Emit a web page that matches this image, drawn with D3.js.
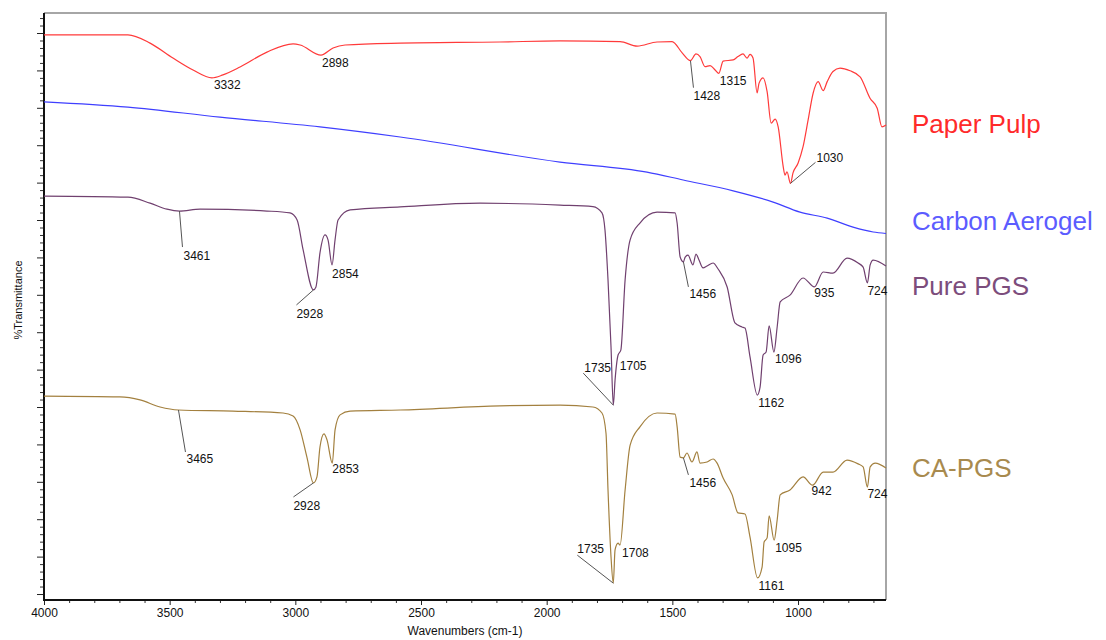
<!DOCTYPE html>
<html>
<head>
<meta charset="utf-8">
<script src="https://cdn.jsdelivr.net/npm/d3@7"></script>
<style>
    body { margin: 0; background: #fff; }
    text { font-family: Arial, "Liberation Sans", sans-serif; }
</style>
</head>
<body>
<div id="chart"></div>
<script>
// FTIR spectra: [wavenumber (cm-1), %T (offset, arbitrary)]
var paperPulp = [[4000,149.5],[3666,149.5],[3578,147.3],[3487,143.3],[3407,140.1],[3332,138.0],[3288,138.8],[3220,140.9],[3113,144.9],[3009,147.1],[2981,146.8],[2898,144.1],[2850,146.0],[2802,146.8],[2583,147.3],[2186,147.6],[1947,147.9],[1708,147.7],[1640,146.5],[1561,147.6],[1501,147.7],[1461,144.7],[1428,142.6],[1406,144.4],[1390,143.7],[1370,141.0],[1350,141.3],[1330,140.1],[1315,139.2],[1298,142.5],[1258,142.8],[1239,143.7],[1219,144.4],[1203,143.3],[1191,144.3],[1179,143.3],[1163,134.0],[1155,136.6],[1139,138.0],[1123,134.3],[1107,125.9],[1091,127.0],[1079,124.9],[1059,114.3],[1052,112.0],[1044,112.9],[1030,109.8],[1020,112.6],[1000,115.2],[980,119.6],[960,126.7],[940,133.9],[920,137.0],[900,134.6],[884,137.0],[861,139.7],[833,140.6],[793,139.9],[753,138.3],[713,132.5],[685,129.9],[666,124.9],[650,125.4]];

var carbonAerogel = [[4000,131.6],[3666,130.2],[3300,127.5],[2902,124.9],[2583,122.2],[1947,115.5],[1601,112.8],[1457,110.7],[1258,107.8],[1099,104.8],[992,102.1],[884,100.5],[781,98.1],[701,96.8],[650,96.4]];

var purePGS = [[4000,106.4],[3666,106.1],[3578,104.5],[3511,102.9],[3461,102.4],[3379,102.9],[3113,102.4],[3021,101.9],[2993,100.0],[2969,92.0],[2928,81.3],[2918,82.1],[2902,91.2],[2882,96.0],[2870,94.7],[2854,88.0],[2842,94.7],[2830,100.0],[2782,102.7],[2583,103.5],[2265,104.5],[1947,104.0],[1816,103.6],[1780,101.9],[1768,97.3],[1756,84.0],[1744,66.0],[1735,50.5],[1728,57.2],[1716,63.9],[1705,65.2],[1688,84.0],[1668,94.7],[1629,99.2],[1561,102.1],[1489,101.9],[1481,99.2],[1469,90.1],[1456,88.8],[1449,90.1],[1438,90.6],[1418,88.0],[1406,90.9],[1394,89.3],[1378,87.2],[1362,87.7],[1338,88.5],[1318,86.9],[1282,82.1],[1251,72.5],[1223,71.4],[1211,71.1],[1191,63.4],[1162,53.2],[1151,55.3],[1139,63.9],[1127,64.7],[1115,71.7],[1096,64.7],[1083,71.4],[1071,78.1],[1032,79.9],[980,84.5],[935,82.1],[900,86.1],[861,85.8],[805,89.8],[761,88.5],[741,87.4],[724,83.2],[713,88.0],[701,89.3],[650,87.7]];

var caPGS = [[4000,52.9],[3698,52.7],[3618,51.9],[3538,50.0],[3465,49.2],[3248,48.9],[3049,48.4],[3009,47.6],[2981,43.9],[2954,36.6],[2928,29.7],[2914,31.3],[2902,39.3],[2886,42.8],[2874,41.2],[2853,35.0],[2842,43.9],[2822,47.9],[2782,48.9],[2583,49.2],[2186,50.3],[1947,50.5],[1816,50.0],[1780,48.4],[1764,43.0],[1756,27.8],[1744,9.9],[1735,2.9],[1728,11.8],[1716,13.6],[1708,13.1],[1688,27.8],[1668,39.8],[1629,44.7],[1561,48.4],[1489,48.1],[1481,44.7],[1469,36.6],[1456,36.4],[1442,37.7],[1422,35.3],[1402,38.0],[1390,35.0],[1362,35.3],[1338,36.1],[1322,35.0],[1298,31.0],[1262,26.5],[1239,21.7],[1211,21.4],[1191,15.2],[1161,4.3],[1143,7.2],[1135,13.9],[1123,15.0],[1115,20.9],[1095,14.4],[1083,19.8],[1071,26.5],[1032,27.8],[980,31.3],[942,29.1],[900,32.6],[861,32.6],[805,35.8],[761,34.8],[741,34.0],[724,28.6],[713,34.0],[693,35.0],[650,33.7]];

// peak labels (wavenumbers)
var paperPulpPeaks = [3332, 2898, 1428, 1315, 1030];
var purePGSPeaks = [3461, 2928, 2854, 1735, 1705, 1456, 1162, 1096, 935, 724];
var caPGSPeaks = [3465, 2928, 2853, 1735, 1708, 1456, 1161, 1095, 942, 724];

var seriesNames = ["Paper Pulp", "Carbon Aerogel", "Pure PGS", "CA-PGS"];
var xTickLabels = [4000, 3500, 3000, 2500, 2000, 1500, 1000];

// label placement (px offsets from the peak): text [dx, dy], leader line end [lx, ly]
var paperPulpLabelPos = [
    { t: [2, 11] }, { t: [1, 12] }, { t: [3, 39], l: [3, 27] }, { t: [1, 12] }, { t: [26, -21], l: [25, -21] }
];
var purePGSLabelPos = [
    { t: [4, 49], l: [3, 36] }, { t: [-17, 28], l: [-17, 15] }, { t: [0, 13] }, { t: [-29, -33], l: [-30, -32] },
    { t: [-1, 20] }, { t: [6, 36], l: [5, 25] }, { t: [1, 12] }, { t: [1, 11] }, { t: [0, 10] }, { t: [0, 12] }
];
var caPGSLabelPos = [
    { t: [8, 53], l: [7, 42] }, { t: [-20, 27], l: [-20, 14] }, { t: [0, 10] }, { t: [-36, -30], l: [-36, -28] },
    { t: [2, 12] }, { t: [6, 29], l: [5, 17] }, { t: [1, 12] }, { t: [1, 12] }, { t: [-1, 10] }, { t: [0, 11] }
];

var svgWidth = 1106;
var svgHeight = 640;
var plot = { left: 44, right: 886, top: 13, bottom: 600 };

var svg = d3.select("#chart")
    .append("svg")
    .attr("width", svgWidth)
    .attr("height", svgHeight);

var xScale = d3.scaleLinear().domain([4000, 650]).range([plot.left, plot.right]);
var yScale = d3.scaleLinear().domain([-1.6, 155.35]).range([plot.bottom, plot.top]);

// frame (top and right, grey)
svg.append("path")
    .attr("d", `M${plot.left},${plot.top}H${plot.right}V${plot.bottom}`)
    .attr("fill", "none")
    .attr("stroke", "#a6a6a6")
    .attr("stroke-width", 2);

// y axis: minor + major ticks, no labels
svg.append("g")
    .attr("transform", `translate(${plot.left},0)`)
    .call(d3.axisLeft(yScale).tickValues(d3.range(0, 156, 2).filter(d => d % 10 != 0)).tickSize(4).tickFormat(""))
    .call(g => g.select(".domain").remove())
    .call(g => g.selectAll("line").attr("stroke", "#333"));

svg.append("g")
    .attr("transform", `translate(${plot.left},0)`)
    .call(d3.axisLeft(yScale).tickValues(d3.range(0, 156, 10)).tickSize(7).tickFormat(""))
    .call(g => g.select(".domain").remove())
    .call(g => g.selectAll("line").attr("stroke", "#222"));

// x axis
svg.append("g")
    .attr("transform", `translate(0,${plot.bottom})`)
    .call(d3.axisBottom(xScale).tickValues(d3.range(700, 4000, 100).filter(d => d % 500 != 0)).tickSize(3).tickFormat(""))
    .call(g => g.select(".domain").remove())
    .call(g => g.selectAll("line").attr("stroke", "#333"));

var xAxis = svg.append("g")
    .attr("transform", `translate(0,${plot.bottom})`)
    .call(d3.axisBottom(xScale).tickValues(xTickLabels).tickSize(5).tickSizeOuter(0).tickFormat(d3.format("d")));
xAxis.select(".domain").remove();
xAxis.selectAll("line").attr("stroke", "#222");
xAxis.selectAll("text")
    .attr("font-size", "12px")
    .attr("fill", "#111")
    .style("font-family", "Arial, 'Liberation Sans', sans-serif");

// black axis lines
svg.append("path")
    .attr("d", `M${plot.left},${plot.top}V${plot.bottom}H${plot.right}`)
    .attr("fill", "none")
    .attr("stroke", "#111")
    .attr("stroke-width", 2);

// spectra
var line = d3.line()
    .x(d => xScale(d[0]))
    .y(d => yScale(d[1]))
    .curve(d3.curveMonotoneX);

var spectra = [paperPulp, carbonAerogel, purePGS, caPGS];
var lineColors = ["#ff3a3a", "#3f3fff", "#70406f", "#a3803f"];

spectra.forEach(function (s, i) {
    svg.append("path")
        .datum(s)
        .attr("d", line)
        .attr("fill", "none")
        .attr("stroke", lineColors[i])
        .attr("stroke-width", 1.2);
});

// peak labels
function nearest(series, wn) {
    return series.reduce((a, b) => Math.abs(b[0] - wn) < Math.abs(a[0] - wn) ? b : a);
}

function addPeaks(series, peaks, pos) {
    peaks.forEach(function (wn, i) {
        var p = nearest(series, wn);
        var px = xScale(p[0]);
        var py = yScale(p[1]);
        var o = pos[i];
        if (o.l) {
            svg.append("line")
                .attr("x1", px).attr("y1", py)
                .attr("x2", px + o.l[0]).attr("y2", py + o.l[1])
                .attr("stroke", "#555")
                .attr("stroke-width", 1);
        }
        svg.append("text")
            .attr("x", px + o.t[0])
            .attr("y", py + o.t[1])
            .attr("font-size", "12px")
            .attr("fill", "#111")
            .text(wn);
    });
}

addPeaks(paperPulp, paperPulpPeaks, paperPulpLabelPos);
addPeaks(purePGS, purePGSPeaks, purePGSLabelPos);
addPeaks(caPGS, caPGSPeaks, caPGSLabelPos);

// series names on the right
var nameColors = ["#ff2a2a", "#5c5cff", "#7c4d7c", "#a88a4e"];
var nameY = [133, 230, 295, 477];

svg.selectAll(".series-name")
    .data(seriesNames)
    .enter()
    .append("text")
    .attr("class", "series-name")
    .attr("x", 912)
    .attr("y", (d, i) => nameY[i])
    .attr("font-size", "26px")
    .attr("fill", (d, i) => nameColors[i])
    .text(d => d);

// axis titles
svg.append("text")
    .attr("x", (plot.left + plot.right) / 2 + 0)
    .attr("y", 635)
    .attr("text-anchor", "middle")
    .attr("font-size", "12px")
    .attr("fill", "#111")
    .text("Wavenumbers (cm-1)");

svg.append("text")
    .attr("transform", "rotate(-90)")
    .attr("x", -300)
    .attr("y", 22)
    .attr("text-anchor", "middle")
    .attr("font-size", "11px")
    .attr("fill", "#111")
    .text("%Transmittance");
</script>
</body>
</html>
